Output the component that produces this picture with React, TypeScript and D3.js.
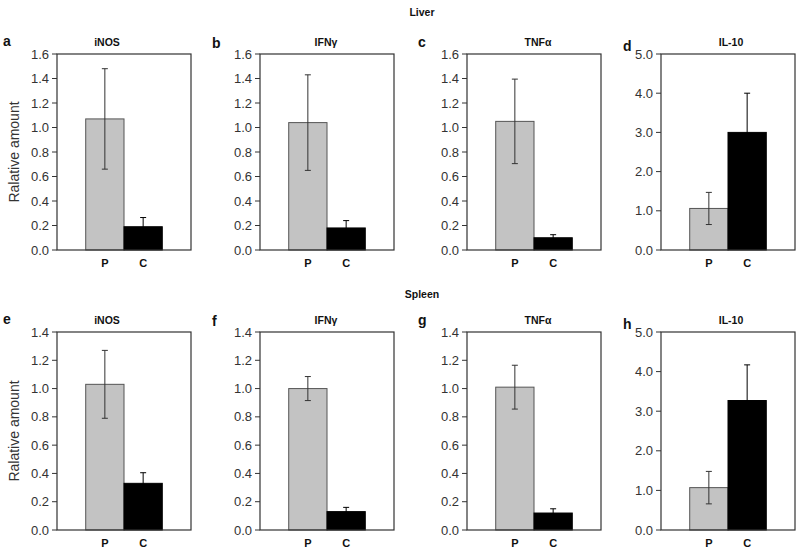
import React from "react";
import * as d3 from "d3";

const tissues = ["Liver", "Spleen"];
const markers = ["iNOS", "IFNγ", "TNFα", "IL-10"];
const groups = ["P", "C"];
const panelLetters = [["a", "b", "c", "d"], ["e", "f", "g", "h"]];

const liverP = [1.07, 1.04, 1.05, 1.06];
const liverPErr = [0.41, 0.39, 0.345, 0.41];
const liverC = [0.19, 0.18, 0.1, 3.0];
const liverCErr = [0.075, 0.06, 0.025, 1.0];

const spleenP = [1.03, 1.0, 1.01, 1.07];
const spleenPErr = [0.24, 0.085, 0.155, 0.41];
const spleenC = [0.33, 0.13, 0.12, 3.27];
const spleenCErr = [0.075, 0.03, 0.03, 0.9];

const liverYMax = [1.6, 1.6, 1.6, 5.0];
const spleenYMax = [1.4, 1.4, 1.4, 5.0];
const tickStep = [0.2, 0.2, 0.2, 1.0];

const yLabel = "Ralative amount";

// layout
const W = 800;
const H = 554;
const colX = [57, 260, 467, 661];
const panelW = 134;
const rowTop = [54, 332];
const rowBottom = [250, 530];
const titleX = [107, 326, 538, 731];
const letterX = [3, 212, 418, 623];
const letterDy = [-8, -6, -7, -3];
const sectionTitleX = 422;
const sectionTitleY = [16, 298];

const font = "'Liberation Sans', Arial, Helvetica, sans-serif";
const frameColor = "#333";

function Panel({ row, col }: { row: number; col: number }) {
  const x0 = colX[col];
  const top = rowTop[row];
  const bottom = rowBottom[row];
  const vals = row === 0 ? [liverP[col], liverC[col]] : [spleenP[col], spleenC[col]];
  const errs = row === 0 ? [liverPErr[col], liverCErr[col]] : [spleenPErr[col], spleenCErr[col]];
  const yMax = row === 0 ? liverYMax[col] : spleenYMax[col];
  const step = tickStep[col];

  const y = d3.scaleLinear().domain([0, yMax]).range([bottom, top]);
  const x = d3
    .scaleBand<string>()
    .domain(groups)
    .range([x0, x0 + panelW])
    .paddingInner(0)
    .paddingOuter(0.75);
  const ticks = d3.range(0, Math.round(yMax / step) + 1).map((i) => +(i * step).toFixed(2));
  const fmt = d3.format(".1f");
  const fills = ["#c3c3c3", "#000"];
  const strokes = ["#555", "#000"];
  const errColors = ["#333", "#000"];
  const bw = x.bandwidth();

  return (
    <g>
      {groups.map((g, i) => (
        <rect
          key={g}
          x={x(g)!}
          y={y(vals[i])}
          width={bw}
          height={bottom - y(vals[i])}
          fill={fills[i]}
          stroke={strokes[i]}
          strokeWidth={1}
        />
      ))}
      {groups.map((g, i) => {
        const cx = x(g)! + bw / 2;
        const yt = y(vals[i] + errs[i]);
        const yb = y(Math.max(0, vals[i] - errs[i]));
        return (
          <g key={"e" + g} stroke={errColors[i]} strokeWidth={1}>
            <line x1={cx} x2={cx} y1={yt} y2={yb} />
            <line x1={cx - 3} x2={cx + 3} y1={yt} y2={yt} />
            <line x1={cx - 3} x2={cx + 3} y1={yb} y2={yb} />
          </g>
        );
      })}
      <rect x={x0} y={top} width={panelW} height={bottom - top} fill="none" stroke={frameColor} strokeWidth={1.2} />
      {ticks.map((t) => (
        <g key={t}>
          <line x1={x0 - 5} x2={x0} y1={y(t)} y2={y(t)} stroke={frameColor} strokeWidth={1} />
          <text
            x={x0 - 8}
            y={y(t)}
            dy="0.35em"
            textAnchor="end"
            fontSize={13}
            fontFamily={font}
            fill="#333"
          >
            {fmt(t)}
          </text>
        </g>
      ))}
      {groups.map((g) => (
        <text
          key={"xl" + g}
          x={x(g)! + bw / 2}
          y={bottom + 17}
          textAnchor="middle"
          fontSize={11}
          fontWeight="bold"
          fontFamily={font}
          fill="#111"
        >
          {g}
        </text>
      ))}
      <text
        x={titleX[col]}
        y={top - 8}
        textAnchor="middle"
        fontSize={10.5}
        fontWeight="bold"
        fontFamily={font}
        fill="#111"
      >
        {markers[col]}
      </text>
      <text
        x={letterX[col]}
        y={top + letterDy[col]}
        fontSize={14}
        fontWeight="bold"
        fontFamily={font}
        fill="#111"
      >
        {panelLetters[row][col]}
      </text>
      {col === 0 && (
        <text
          transform={`translate(19, ${(top + bottom) / 2}) rotate(-90)`}
          textAnchor="middle"
          fontSize={14}
          fontFamily={font}
          fill="#333"
        >
          {yLabel}
        </text>
      )}
    </g>
  );
}

export default function App() {
  return (
    <svg
      width={W}
      height={H}
      viewBox={`0 0 ${W} ${H}`}
      style={{ position: "absolute", left: 0, top: 0, background: "#fff" }}
    >
      <rect width={W} height={H} fill="#fff" />
      {tissues.map((t, r) => (
        <text
          key={t}
          x={sectionTitleX}
          y={sectionTitleY[r]}
          textAnchor="middle"
          fontSize={10.5}
          fontWeight="bold"
          fontFamily={font}
          fill="#111"
        >
          {t}
        </text>
      ))}
      {tissues.map((t, r) =>
        markers.map((m, c) => <Panel key={t + m} row={r} col={c} />)
      )}
    </svg>
  );
}
